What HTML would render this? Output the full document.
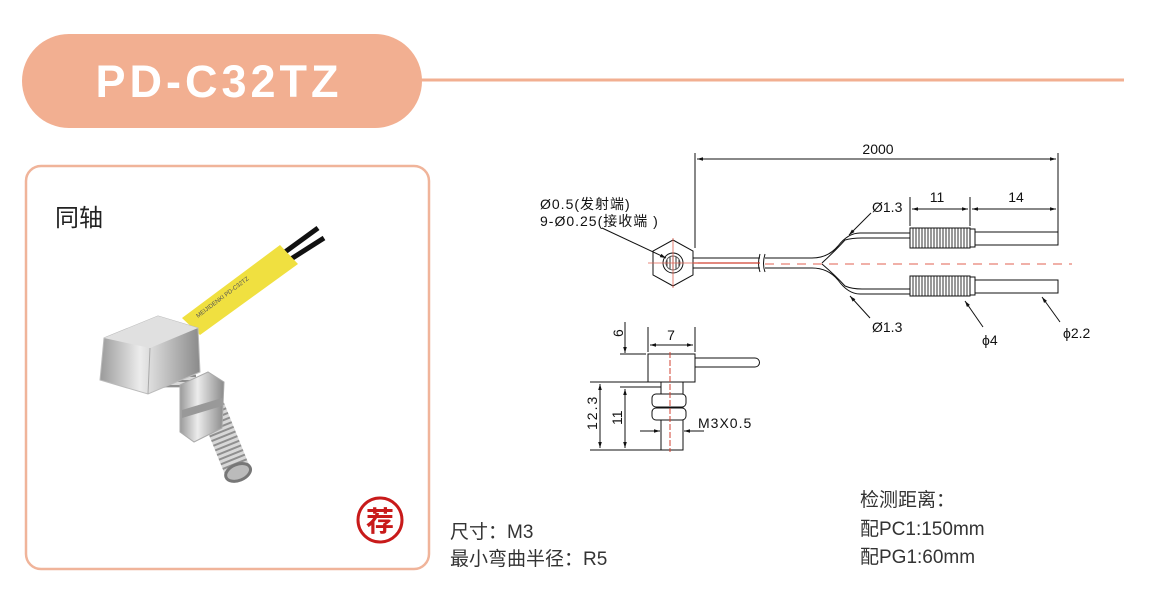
<!DOCTYPE html>
<html><head><meta charset="utf-8"><style>
body{margin:0;background:#fff;width:1157px;height:597px;overflow:hidden}
svg{display:block}
text{font-family:"Liberation Sans","Noto Sans CJK SC",sans-serif}
</style></head><body>
<svg width="1157" height="597" viewBox="0 0 1157 597" xmlns="http://www.w3.org/2000/svg">
<defs>
<marker id="a" viewBox="0 0 10 10" refX="10" refY="5" markerWidth="9" markerHeight="6" orient="auto-start-reverse"><path d="M0,2 L10,5 L0,8z" fill="#111"/></marker>
<pattern id="kn" width="3" height="20" patternUnits="userSpaceOnUse"><rect width="3" height="20" fill="#fff"/><line x1="1" y1="0" x2="1" y2="20" stroke="#333" stroke-width="1"/></pattern>
<linearGradient id="metal" x1="0" x2="1"><stop offset="0" stop-color="#9a9a9a"/><stop offset=".4" stop-color="#ececec"/><stop offset="1" stop-color="#8a8a8a"/></linearGradient>
<pattern id="thr" width="30" height="5" patternUnits="userSpaceOnUse"><rect width="30" height="5" fill="#d8d8d8"/><rect width="30" height="2" fill="#8f8f8f"/></pattern>
</defs>
<!-- header -->
<line x1="420" y1="80" x2="1124" y2="80" stroke="#f2af91" stroke-width="3"/>
<rect x="22" y="34" width="400" height="94" rx="47" fill="#f2af91"/>
<text x="219" y="97" text-anchor="middle" font-size="45" font-weight="bold" fill="#fff" letter-spacing="4">PD-C32TZ</text>
<!-- card -->
<rect x="26" y="166" width="403" height="403" rx="15" fill="#fff" stroke="#f0b49a" stroke-width="2.5"/>
<text x="55" y="226" font-size="24" fill="#222">同轴</text>
<!-- product -->
<g>
<line x1="285" y1="252" x2="318" y2="228" stroke="#111" stroke-width="5"/>
<line x1="291" y1="259" x2="324" y2="238" stroke="#111" stroke-width="5"/>
<path d="M182,318 L280,245 L298,264 L200,335z" fill="#f0e040"/>
<text x="0" y="0" font-size="6" fill="#555" transform="translate(198,318) rotate(-37)">MEIJIDENKI   PD-C32TZ</text>
<g transform="rotate(-22 225 440)">
<rect x="212" y="405" width="26" height="70" fill="url(#thr)"/>
<ellipse cx="225" cy="475" rx="13" ry="8" fill="#bbb" stroke="#777" stroke-width="3"/>
</g>
<rect x="160" y="360" width="36" height="28" fill="url(#thr)"/>
<path d="M104,338 L158,316 L198,328 L200,372 L148,394 L100,380z" fill="url(#metal)" stroke="#bbb"/>
<path d="M104,338 L158,316 L198,328 L150,348z" fill="#e0e0e0"/>
<line x1="150" y1="348" x2="148" y2="394" stroke="#aaa"/>
<path d="M180,385 L208,372 L224,382 L222,428 L194,442 L180,432z" fill="url(#metal)" stroke="#aaa"/>
<path d="M182,410 L222,398 L222,406 L182,418z" fill="#999"/>
</g>
<!-- stamp -->
<circle cx="380" cy="520" r="22" fill="#fff" stroke="#c81a1a" stroke-width="3"/>
<text x="380" y="531" text-anchor="middle" font-size="28" font-weight="bold" fill="#c81a1a">荐</text>
<!-- texts -->
<g font-size="19" fill="#333">
<text x="450" y="538">尺寸：M3</text>
<text x="450" y="565">最小弯曲半径：R5</text>
<text x="860" y="506">检测距离：</text>
<text x="860" y="535">配PC1:150mm</text>
<text x="860" y="563">配PG1:60mm</text>
</g>
<!-- top drawing -->
<g stroke="#111" stroke-width="1" fill="none">
<line x1="695" y1="153" x2="695" y2="248"/>
<line x1="1058" y1="153" x2="1058" y2="240"/>
<line x1="697" y1="159" x2="1056" y2="159" marker-start="url(#a)" marker-end="url(#a)"/>
<polygon points="673,240 693,251 693,275 673,286 653,275 653,251" fill="#fff"/>
<circle cx="673" cy="263" r="10" fill="#fff"/>
<circle cx="673" cy="263" r="7" fill="url(#kn)" stroke="#555"/>
<path d="M693,258 H760 M693,268 H760 M765,258 H812 Q828,258 838,246 Q848,233 860,233 H910 M765,268 H812 Q828,268 838,280 Q848,294 860,294 H910"/>
<path d="M760,254 q-3,10 0,18 M765,254 q-3,10 0,18"/>
<path d="M822,263 Q836,250 845,240 Q852,238 862,238 H910 M822,264 Q836,276 845,286 Q852,289 862,289 H910"/>
<rect x="910" y="228" width="60" height="20" fill="url(#kn)"/>
<rect x="910" y="276" width="60" height="20" fill="url(#kn)"/>
<path d="M970,229 H975 V247 H970 M970,277 H975 V295 H970"/>
<rect x="975" y="232" width="83" height="13"/>
<rect x="975" y="280" width="83" height="13"/>
<line x1="910" y1="197" x2="910" y2="226"/>
<line x1="970" y1="197" x2="970" y2="226"/>
<line x1="912" y1="209" x2="968" y2="209" marker-start="url(#a)" marker-end="url(#a)"/>
<line x1="972" y1="209" x2="1056" y2="209" marker-start="url(#a)" marker-end="url(#a)"/>
<line x1="871" y1="213" x2="849" y2="235" marker-end="url(#a)"/>
<line x1="870" y1="318" x2="850" y2="296" marker-end="url(#a)"/>
<line x1="983" y1="327" x2="965" y2="301" marker-end="url(#a)"/>
<line x1="1060" y1="322" x2="1042" y2="297" marker-end="url(#a)"/>
<line x1="602" y1="228" x2="666" y2="258" marker-end="url(#a)"/>
</g>
<line x1="693" y1="263" x2="760" y2="263" stroke="#d04030" stroke-width="1.2"/>
<line x1="765" y1="264" x2="1072" y2="264" stroke="#e06050" stroke-width="1" stroke-dasharray="9,7"/>
<line x1="673" y1="238" x2="673" y2="288" stroke="#e06050" stroke-width="0.8"/>
<line x1="648" y1="263" x2="698" y2="263" stroke="#e06050" stroke-width="0.8"/>
<g font-size="14" fill="#111">
<text x="878" y="154" text-anchor="middle">2000</text>
<text x="937" y="202" text-anchor="middle">11</text>
<text x="1016" y="202" text-anchor="middle">14</text>
<text x="872" y="212">Ø1.3</text>
<text x="872" y="332">Ø1.3</text>
<text x="982" y="345">ϕ4</text>
<text x="1063" y="338">ϕ2.2</text>
<text x="540" y="209" letter-spacing="1">Ø0.5(发射端)</text>
<text x="540" y="226" letter-spacing="1">9-Ø0.25(接收端 )</text>
<text x="698" y="428" letter-spacing="1">M3X0.5</text>
<text x="671" y="340" text-anchor="middle">7</text>
<text transform="translate(623,337) rotate(-90)">6</text>
<text transform="translate(597,430) rotate(-90)" letter-spacing="2">12.3</text>
<text transform="translate(622,425) rotate(-90)">11</text>
</g>
<!-- side view -->
<g stroke="#111" stroke-width="1" fill="none">
<line x1="648" y1="327" x2="648" y2="352"/>
<line x1="695" y1="327" x2="695" y2="352"/>
<line x1="650" y1="345" x2="693" y2="345" marker-start="url(#a)" marker-end="url(#a)"/>
<line x1="625" y1="322" x2="625" y2="353" marker-end="url(#a)"/>
<line x1="620" y1="354" x2="646" y2="354"/>
<rect x="648" y="354" width="47" height="28" fill="#fff"/>
<path d="M695,358 H755 A4.5,4.5 0 0 1 755,367 H695"/>
<line x1="590" y1="382" x2="648" y2="382"/>
<line x1="620" y1="387" x2="661" y2="387"/>
<line x1="590" y1="450" x2="661" y2="450"/>
<line x1="600" y1="384" x2="600" y2="448" marker-start="url(#a)" marker-end="url(#a)"/>
<line x1="625" y1="389" x2="625" y2="448" marker-start="url(#a)" marker-end="url(#a)"/>
<rect x="661" y="382" width="22" height="68" fill="#fff"/>
<rect x="652" y="394" width="34" height="13" rx="4" fill="#fff"/>
<rect x="652" y="408" width="34" height="12" rx="4" fill="#fff"/>
<line x1="640" y1="431" x2="660" y2="431" marker-end="url(#a)"/>
<line x1="704" y1="431" x2="684" y2="431" marker-end="url(#a)"/>
</g>
<line x1="670" y1="352" x2="670" y2="452" stroke="#d04030" stroke-width="1" stroke-dasharray="6,2"/>
</svg>
</body></html>
